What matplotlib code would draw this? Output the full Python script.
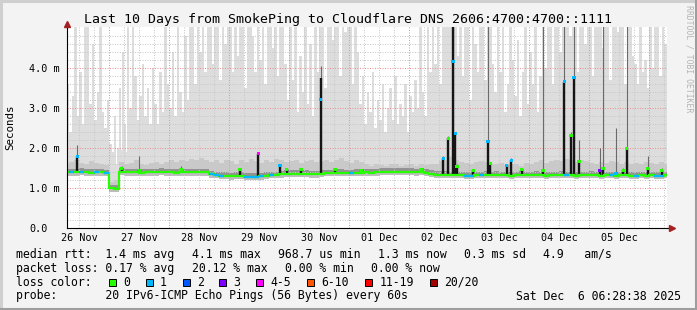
""" SmokePing style latency graph, last 10 days
"""
import numpy as np
import matplotlib
matplotlib.use('Agg')
import matplotlib.pyplot as plt
from matplotlib.lines import Line2D
from matplotlib.patches import Rectangle

W, H = 697, 310

title = "Last 10 Days from SmokePing to Cloudflare DNS 2606:4700:4700::1111"
day_labels = ["26 Nov", "27 Nov", "28 Nov", "29 Nov", "30 Nov",
              "01 Dec", "02 Dec", "03 Dec", "04 Dec", "05 Dec"]
y_labels = ["0.0", "1.0 m", "2.0 m", "3.0 m", "4.0 m"]

# median rtt (ms), 2 hour bins starting 26 Nov 06:00
median_ms = [1.40, 1.40, 1.40, 1.41, 1.40, 1.39, 1.40, 1.40, 1.38,
             1.00, 0.99,
             1.41, 1.40, 1.40, 1.40, 1.39, 1.40, 1.40, 1.40, 1.41,
             1.40, 1.40, 1.39, 1.40, 1.40, 1.40, 1.40, 1.40, 1.40,
             1.35, 1.33, 1.32, 1.31, 1.30, 1.31, 1.32, 1.29, 1.29, 1.29, 1.30, 1.31,
             1.33, 1.33, 1.35, 1.36, 1.36, 1.36, 1.37, 1.36, 1.35, 1.35, 1.36,
             1.38, 1.38, 1.39, 1.39, 1.38, 1.38, 1.39, 1.39,
             1.40, 1.39, 1.40, 1.41, 1.41, 1.42, 1.42, 1.41, 1.41, 1.42, 1.40, 1.41, 1.39,
             1.36, 1.34, 1.34, 1.34, 1.33, 1.33, 1.33, 1.32, 1.32, 1.33, 1.33,
             1.34, 1.33, 1.34, 1.33, 1.33, 1.32, 1.33, 1.34, 1.33, 1.33, 1.34, 1.33,
             1.32, 1.33, 1.33, 1.34, 1.33, 1.33, 1.32, 1.33, 1.33, 1.34, 1.33, 1.32,
             1.33, 1.33, 1.32, 1.33, 1.33, 1.32, 1.32, 1.33, 1.32, 1.33, 1.32, 1.32,
             1.33]
# bins where one of the 20 pings was lost
one_loss_bins = [1, 3, 6, 8, 29, 30, 31, 36, 37, 38, 39, 41, 57, 80, 81, 83,
                 100, 109, 114, 118, 119]

# inner smoke top (ms), same 2 hour bins
smoke_mid_ms = [1.62, 1.66, 1.70, 1.64, 1.60, 1.68, 1.63, 1.61, 1.58,
                1.15, 1.20,
                1.65, 1.60, 1.63, 1.70, 1.62, 1.58, 1.64, 1.67, 1.61,
                1.66, 1.72, 1.65, 1.70, 1.68, 1.74, 1.70, 1.76, 1.72,
                1.66, 1.70, 1.64, 1.72, 1.68, 1.62, 1.70, 1.66, 1.73, 1.69, 1.64, 1.71,
                1.67, 1.74, 1.70, 1.66, 1.69, 1.72, 1.64, 1.68, 1.70, 1.65, 1.69,
                1.72, 1.66, 1.70, 1.75, 1.68, 1.64, 1.71, 1.66,
                1.60, 1.57, 1.62, 1.58, 1.55, 1.60, 1.62, 1.57, 1.59, 1.61, 1.56, 1.60, 1.58,
                1.62, 1.60, 1.68, 1.72, 1.78, 1.70, 1.66, 1.64, 1.60, 1.65, 1.68,
                1.66, 1.62, 1.60, 1.64, 1.58, 1.62, 1.60, 1.57, 1.63, 1.61, 1.66, 1.70,
                1.64, 1.68, 1.72, 1.69, 1.74, 1.70, 1.66, 1.71, 1.68, 1.64, 1.62, 1.67,
                1.63, 1.69, 1.65, 1.62, 1.66, 1.60, 1.64, 1.61, 1.66, 1.63, 1.60, 1.65,
                1.62]

# outer smoke top (ms, ~90th percentile), same 2 hour bins
smoke_p90_ms = [1.95, 2.05, 2.10, 1.90, 2.00, 2.15, 1.95, 1.90, 1.85,
                1.45, 1.60,
                1.95, 1.90, 2.00, 2.10, 1.95, 1.90, 2.05, 2.00, 1.95,
                2.10, 2.20, 2.05, 2.15, 2.10, 2.30, 2.20, 2.35, 2.25,
                2.20, 2.30, 2.15, 2.35, 2.25, 2.10, 2.30, 2.20, 2.40, 2.25, 2.15, 2.30,
                2.20, 2.35, 2.25, 2.15, 2.20, 2.30, 2.10, 2.20, 2.25, 2.10, 2.20,
                2.30, 2.15, 2.25, 2.35, 2.20, 2.10, 2.25, 2.10,
                1.90, 1.85, 1.95, 1.85, 1.80, 1.90, 1.95, 1.85, 1.90, 1.95, 1.85, 1.90, 1.85,
                2.00, 2.10, 2.25, 2.40, 2.50, 2.30, 2.20, 2.15, 2.05, 2.20, 2.25,
                2.20, 2.10, 2.00, 2.10, 1.95, 2.05, 2.00, 1.95, 2.10, 2.05, 2.20, 2.30,
                2.15, 2.25, 2.35, 2.25, 2.40, 2.30, 2.20, 2.30, 2.25, 2.15, 2.10, 2.25,
                2.15, 2.30, 2.20, 2.10, 2.20, 2.05, 2.15, 2.10, 2.20, 2.10, 2.05, 2.15,
                2.10]

# slowest ping (ms), 1 hour steps starting 26 Nov 06:00
smoke_max_ms = [2.9, 3.6, 2.4, 3.3, 5.2, 2.8, 3.9, 2.6, 5.2, 5.2, 3.1, 4.6,
                2.7, 3.4, 5.2, 2.9, 2.5, 3.2, 2.1, 1.9, 2.8, 2.0, 3.5, 4.4,
                2.6, 5.2, 3.0, 5.2, 3.8, 2.7, 3.3, 4.1, 2.8, 3.5, 2.6, 4.0,
                3.1, 2.6, 3.9, 2.9, 5.2, 3.6, 3.0, 4.4, 2.8, 5.2, 3.4, 2.9,
                4.8, 3.2, 5.2, 5.2, 3.6, 5.2, 4.4, 5.2, 3.9, 5.2, 5.2, 4.1,
                5.2, 5.2, 3.7, 5.2, 4.6, 5.2, 5.2, 3.9, 5.2, 4.3, 5.2, 5.2,
                3.5, 5.2, 5.2, 4.8, 3.9, 5.2, 4.2, 5.2, 3.6, 5.2, 5.2, 4.5,
                5.2, 3.8, 5.2, 5.2, 4.1, 3.2, 5.2, 3.7, 5.2, 2.9, 4.3, 3.4,
                5.2, 3.1, 4.6, 2.8, 5.2, 3.9, 5.2, 5.2, 3.5, 5.2, 5.2, 4.7,
                5.2, 5.2, 3.8, 5.2, 4.9, 5.2, 5.2, 3.6, 5.2, 4.4, 3.1, 3.8,
                2.6, 3.4, 2.9, 3.9, 2.5, 3.2, 2.7, 3.6, 2.4, 3.0, 3.5, 2.7,
                3.8, 2.6, 3.1, 2.8, 3.6, 2.4, 3.3, 2.9, 3.7, 3.0, 5.2, 3.4,
                2.8, 5.2, 3.9, 5.2, 4.1, 5.2, 3.6, 5.2, 5.2, 5.2, 5.2, 5.2,
                5.2, 4.3, 5.2, 3.8, 5.2, 5.2, 3.2, 5.2, 4.6, 3.9, 5.2, 5.2,
                3.7, 5.2, 5.2, 4.1, 3.4, 5.2, 3.9, 5.2, 2.9, 3.6, 5.2, 4.2,
                3.3, 4.7, 2.8, 3.9, 5.2, 3.1, 4.4, 3.6, 5.2, 2.9, 3.8, 5.2,
                4.0, 5.2, 5.2, 3.6, 5.2, 5.2, 4.4, 5.2, 5.2, 5.2, 4.8, 5.2,
                5.2, 3.9, 5.2, 5.2, 4.6, 5.2, 5.2, 3.8, 5.2, 5.2, 5.2, 4.5,
                5.2, 5.2, 3.7, 5.2, 5.2, 4.9, 5.2, 5.2, 3.6, 5.2, 5.2, 4.3,
                4.1, 3.6, 5.2, 3.9, 4.2, 3.5, 5.2, 4.0, 5.2, 5.2, 3.8, 5.2,
                4.6]

# short latency bursts: hour, median, dense smoke top, outer smoke top, lost pings
spike_hour = [11.2, 29.0, 36.0, 52.7, 76.3, 83.6, 92.3, 95.0, 100.7, 108.6,
              114.3, 125.0, 148.7, 157.6, 159.6, 161.5, 162.5, 163.1, 169.6, 175.5,
              176.5, 183.0, 184.9, 189.0, 197.5, 206.1, 208.7, 209.9, 211.9, 220.3,
              221.5, 226.7, 229.6, 231.0, 239.4, 245.0]
spike_median = [1.79, 1.50, 1.44, 1.48, 1.46, 1.86, 1.56, 1.48, 1.48, 3.23,
                1.47, 1.45, 1.47, 1.75, 2.25, 4.16, 2.37, 1.55, 1.45, 2.17,
                1.63, 1.58, 1.70, 1.48, 1.45, 3.66, 2.33, 3.77, 1.67, 1.45,
                1.50, 1.38, 1.45, 2.00, 1.50, 1.45]
spike_dense = [1.79, 1.50, 1.45, 1.48, 1.46, 1.86, 1.56, 1.48, 1.48, 3.75,
               1.47, 1.45, 1.47, 1.75, 2.25, 5.10, 2.37, 1.55, 1.45, 2.17,
               1.63, 1.58, 1.70, 1.48, 1.45, 3.66, 2.33, 3.77, 1.67, 1.45,
               1.50, 1.40, 1.45, 2.00, 1.50, 1.45]
spike_outer = [2.08, 1.55, 1.80, 1.55, 1.50, 1.86, 1.60, 1.52, 1.52, 4.05,
               1.50, 1.48, 1.50, 1.80, 2.30, 5.10, 2.40, 1.60, 1.48, 5.10,
               1.65, 1.62, 1.75, 1.50, 5.10, 5.10, 2.40, 5.10, 2.20, 2.00,
               5.10, 2.50, 1.50, 5.10, 1.80, 1.50]
spike_loss = [1, 0, 0, 0, 0, 4, 1, 0, 0, 1,
              0, 0, 0, 1, 0, 1, 1, 0, 0, 1,
              0, 1, 1, 0, 0, 1, 0, 1, 0, 3,
              0, 1, 0, 0, 0, 0]

loss_names = ["0", "1", "2", "3", "4-5", "6-10", "11-19", "20/20"]
loss_colors = ["#26ff00", "#00b8ff", "#0059ff", "#7e00ff", "#ff00ff",
               "#ff5500", "#ff0000", "#a10000"]

rtt_items = ["median rtt:  1.4 ms avg", "4.1 ms max", "968.7 us min",
             "1.3 ms now", "0.3 ms sd", "4.9   am/s"]
loss_items = ["packet loss: 0.17 % avg", "20.12 % max", "0.00 % min", "0.00 % now"]
probe_text = "probe:       20 IPv6-ICMP Echo Pings (56 Bytes) every 60s"
stamp = "Sat Dec  6 06:28:38 2025"

MONO = "DejaVu Sans Mono"
BACK = "#f3f3f3"
CHAR_W = 6.95      # legend character width, px
GAP = 16.5         # space between legend items, px

fig = plt.figure(figsize=(W / 100, H / 100), dpi=100, facecolor=BACK)
ax = fig.add_axes([66.7 / W, 1 - 228.3 / H, 600 / W, 201 / H])
ax.set_facecolor("white")
x0, x1 = 7, 247           # 26 Nov 07:00 .. 06 Dec 07:00
ax.set_xlim(x0, x1)
ax.set_ylim(0, 201 / 40)

median = np.array(median_ms)
edges = 6 + 2 * np.arange(len(median) + 1)
smoke_hours = 6 + np.arange(len(smoke_max_ms))
base = np.repeat(median, 2)[:len(smoke_max_ms)]

# smoke, light outer part first
ax.bar(smoke_hours + 0.08, np.array(smoke_max_ms) - base, bottom=base, width=0.84,
       align='edge', color='#dddddd', linewidth=0, zorder=1)
ax.stairs(smoke_p90_ms, edges, baseline=median, fill=True, color='#dddddd',
          linewidth=0, zorder=1.1)
ax.stairs(smoke_mid_ms, edges, baseline=median, fill=True, color='#c9c9c9',
          linewidth=0, zorder=1.5)
ax.stairs(median + 0.09, edges, baseline=median, fill=True, color='#939393',
          linewidth=0, zorder=2)
ax.stairs(median, edges, baseline=median - 0.08, fill=True, color='#bdbdbd',
          linewidth=0, zorder=2)

# grid
for h in range(12, x1, 6):
    if h % 24:
        ax.axvline(h, color='#c8c8c8', lw=0.72, ls=(0, (1, 1.5)), zorder=3)
for v in np.arange(0.2, 5.0, 0.2):
    if abs(v - round(v)) > 0.01:
        ax.axhline(v, color='#c8c8c8', lw=0.72, ls=(0, (1, 1.5)), zorder=3)
for h in range(24, x1, 24):
    ax.axvline(h, color='#ee9090', lw=0.72, ls=(0, (1, 1.5)), zorder=3.1)
for v in range(1, 5):
    ax.axhline(v, color='#ee9090', lw=0.72, ls=(0, (1, 1.5)), zorder=3.1)

# bursts
spike_base = median[((np.array(spike_hour) - 6) // 2).astype(int)]
ax.vlines(spike_hour, spike_base, spike_outer, color='#6a6a6a', linewidth=0.8, zorder=3.4)
ax.vlines(spike_hour, spike_base, spike_dense, color='#151515', linewidth=1.7, zorder=3.5)

# median line coloured by loss
ax.stairs(median, edges, baseline=None, color=loss_colors[0], linewidth=1.6, zorder=4)
for b in one_loss_bins:
    ax.hlines(median[b], edges[b], edges[b + 1], color=loss_colors[1], linewidth=1.6, zorder=4.1)
ax.scatter(spike_hour, spike_median, marker='s', s=5, linewidths=0,
           c=[loss_colors[k] for k in spike_loss], zorder=4.5)

# axes with arrows
ax.plot([x0, x0], [0, 5.1], color='black', lw=0.8, clip_on=False, zorder=6)
ax.plot([x0, 248.6], [0, 0], color='black', lw=0.8, clip_on=False, zorder=6)
ax.plot(x0, 5.12, marker='^', ms=4.5, color='#a52020', clip_on=False, zorder=7)
ax.plot(249.0, 0, marker='>', ms=4.5, color='#a52020', clip_on=False, zorder=7)

for s in ax.spines.values():
    s.set_visible(False)
ax.set_xticks(12 + 24 * np.arange(len(day_labels)))
ax.set_xticklabels(day_labels, family=MONO, fontsize=7.3)
ax.set_yticks(range(len(y_labels)))
ax.set_yticklabels(y_labels, family=MONO, fontsize=7.3, ha='left')
ax.tick_params(axis='x', length=0, pad=3.3)
ax.tick_params(axis='y', length=0, pad=(66.7 - 29) * 0.72)

fig.text(10 / W, 1 - 127 / H, "Seconds", rotation=90, ha='center', va='center',
         family=MONO, fontsize=7.8)
fig.text(0.5, 1 - 19 / H, title, ha='center', va='center', family=MONO, fontsize=9.55)
fig.text(688.5 / W, 1 - 5 / H, "RRDTOOL / TOBI OETIKER", rotation=270, ha='center',
         va='top', family=MONO, fontsize=5.9, color='#b4b4b4')

rows_y = [254.3, 268.3, 282.3, 296.0]
LEG = dict(ha='left', va='center', family=MONO, fontsize=8.3)
for items, y in [(rtt_items, rows_y[0]), (loss_items, rows_y[1])]:
    x = 16.0
    for item in items:
        fig.text(x / W, 1 - y / H, item, **LEG)
        x += len(item) * CHAR_W + GAP
fig.text(16 / W, 1 - rows_y[2] / H, "loss color:", **LEG)
fig.text(16 / W, 1 - rows_y[3] / H, probe_text, **LEG)
fig.text(681 / W, 1 - rows_y[3] / H, stamp, **dict(LEG, ha='right'))

box_x = [109, 145.7, 182.7, 219.3, 256, 307.3, 365, 430]
for bx, name, col in zip(box_x, loss_names, loss_colors):
    fig.patches.append(Rectangle((bx / W, 1 - (rows_y[2] + 3.5) / H), 7 / W, 7 / H,
                                 transform=fig.transFigure, facecolor=col,
                                 edgecolor='black', linewidth=0.7))
    fig.text((bx + 14.3) / W, 1 - rows_y[2] / H, name, **LEG)

# frame
for xs, ys, c in [([0, W], [1, 1], '#cfcfcf'), ([1, 1], [0, H], '#cfcfcf'),
                  ([0, W], [H - 1.5, H - 1.5], '#9e9e9e'), ([W - 1.5, W - 1.5], [0, H], '#9e9e9e')]:
    fig.add_artist(Line2D([x / W for x in xs], [1 - y / H for y in ys], color=c, lw=2.2))

fig.savefig("out.png", dpi=100, facecolor=BACK)
